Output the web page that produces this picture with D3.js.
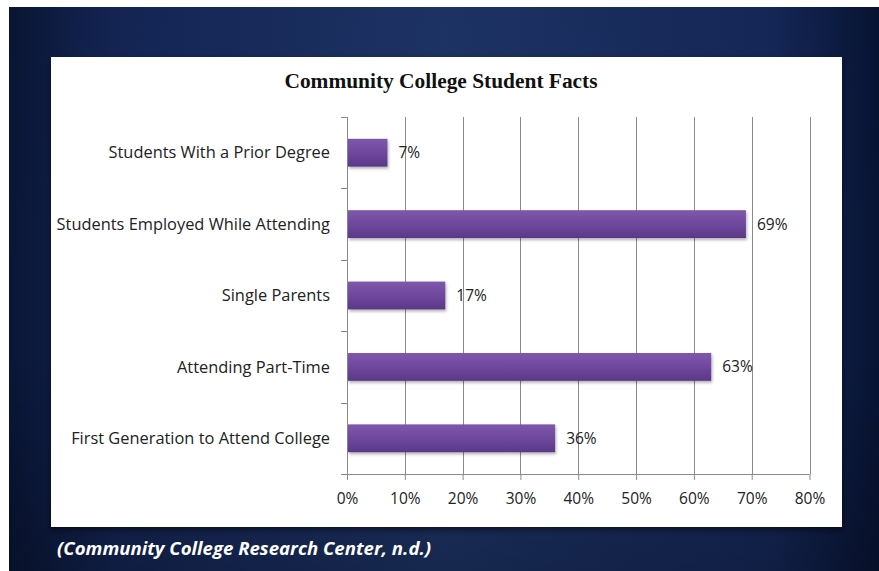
<!DOCTYPE html>
<html>
<head>
<meta charset="utf-8">
<script src="https://cdn.jsdelivr.net/npm/d3@7"></script>
<style>
  html, body { margin: 0; padding: 0; background: #fff; }
  svg { display: block; }
</style>
</head>
<body>
<svg id="chart" width="879" height="571"></svg>
<script>
// Chart content
const title = "Community College Student Facts";
const source = "(Community College Research Center, n.d.)";
const categories = [
  "Students With a Prior Degree",
  "Students Employed While Attending",
  "Single Parents",
  "Attending Part-Time",
  "First Generation to Attend College"
];
const values = [7, 69, 17, 63, 36];
const tickValues = [0, 10, 20, 30, 40, 50, 60, 70, 80];

const svg = d3.select("#chart");
const defs = svg.append("defs");

// Navy slide background, lighter in the middle, darker at the edges
const bgGrad = defs.append("linearGradient").attr("id", "bg").attr("x1", 0).attr("x2", 1).attr("y1", 0).attr("y2", 0);
bgGrad.append("stop").attr("offset", "0%").attr("stop-color", "#0a1636");
bgGrad.append("stop").attr("offset", "12%").attr("stop-color", "#142657");
bgGrad.append("stop").attr("offset", "50%").attr("stop-color", "#1e3568");
bgGrad.append("stop").attr("offset", "88%").attr("stop-color", "#15285a");
bgGrad.append("stop").attr("offset", "100%").attr("stop-color", "#081434");

const vGrad = defs.append("linearGradient").attr("id", "bgv").attr("x1", 0).attr("x2", 0).attr("y1", 0).attr("y2", 1);
vGrad.append("stop").attr("offset", "0%").attr("stop-color", "#000").attr("stop-opacity", 0.05);
vGrad.append("stop").attr("offset", "60%").attr("stop-color", "#000").attr("stop-opacity", 0.0);
vGrad.append("stop").attr("offset", "100%").attr("stop-color", "#000").attr("stop-opacity", 0.25);

const barGrad = defs.append("linearGradient").attr("id", "bar").attr("x1", 0).attr("x2", 0).attr("y1", 0).attr("y2", 1);
barGrad.append("stop").attr("offset", "0%").attr("stop-color", "#7e58ad");
barGrad.append("stop").attr("offset", "45%").attr("stop-color", "#71499f");
barGrad.append("stop").attr("offset", "100%").attr("stop-color", "#5a3888");

const shadow = defs.append("filter").attr("id", "shadow").attr("x", "-10%").attr("y", "-20%").attr("width", "130%").attr("height", "160%");
shadow.append("feDropShadow").attr("dx", 1).attr("dy", 2).attr("stdDeviation", 1.5).attr("flood-color", "#000").attr("flood-opacity", 0.3);

const panelShadow = defs.append("filter").attr("id", "pshadow").attr("x", "-5%").attr("y", "-5%").attr("width", "110%").attr("height", "115%");
panelShadow.append("feDropShadow").attr("dx", 0).attr("dy", 3).attr("stdDeviation", 3).attr("flood-color", "#000").attr("flood-opacity", 0.5);

svg.append("rect").attr("x", 9).attr("y", 7).attr("width", 870).attr("height", 564).attr("fill", "url(#bg)");
svg.append("rect").attr("x", 9).attr("y", 7).attr("width", 870).attr("height", 564).attr("fill", "url(#bgv)");

// White chart panel
svg.append("rect").attr("x", 51).attr("y", 57).attr("width", 791).attr("height", 470)
  .attr("fill", "#fff").attr("filter", "url(#pshadow)");

// Title
svg.append("text").attr("x", 441).attr("y", 88)
  .attr("text-anchor", "middle")
  .style("font-family", "'Liberation Serif', 'Times New Roman', serif")
  .style("font-weight", "bold").style("font-size", "21.4px").style("fill", "#111")
  .text(title);

// Plot area
const plot = { left: 347, right: 809.5, top: 117, bottom: 474 };
const x = d3.scaleLinear().domain([0, 80]).range([plot.left, plot.right]);
const y = d3.scaleBand().domain(categories).range([plot.top, plot.bottom]).paddingInner(0.61).paddingOuter(0.305);

const labelFont = "'Open Sans', 'Noto Sans', sans-serif";
const g = svg.append("g");

// Vertical gridlines
g.selectAll("line.grid").data(tickValues.filter(d => d > 0)).join("line")
  .attr("class", "grid")
  .attr("x1", d => Math.round(x(d)) + 0.5).attr("x2", d => Math.round(x(d)) + 0.5)
  .attr("y1", plot.top).attr("y2", plot.bottom)
  .attr("stroke", "#8a8a8a").attr("stroke-width", 1);

// Bottom axis
const xAxis = d3.axisBottom(x).tickValues(tickValues).tickFormat(d => d + "%").tickSize(6).tickPadding(13);
const xg = g.append("g").attr("transform", `translate(0,${plot.bottom})`).call(xAxis);
xg.select(".domain").attr("stroke", "#8a8a8a").attr("d", `M${plot.left},0.5H${plot.right}`);
xg.selectAll(".tick line").attr("stroke", "#8a8a8a");
xg.selectAll(".tick text")
  .style("font-family", labelFont)
  .style("font-size", "15.5px").style("fill", "#222");

// Left category axis with ticks between bands
const bandEdges = categories.map(c => y(c) - y.step() * y.paddingInner() / 2).concat([plot.bottom]);
g.append("line").attr("x1", plot.left + 0.5).attr("x2", plot.left + 0.5)
  .attr("y1", plot.top).attr("y2", plot.bottom + 6).attr("stroke", "#8a8a8a");
g.selectAll("line.ytick").data(bandEdges).join("line")
  .attr("class", "ytick")
  .attr("x1", plot.left - 6).attr("x2", plot.left)
  .attr("y1", d => Math.round(d) + 0.5).attr("y2", d => Math.round(d) + 0.5)
  .attr("stroke", "#8a8a8a");

g.selectAll("text.cat").data(categories).join("text")
  .attr("class", "cat")
  .attr("x", plot.left - 17)
  .attr("y", d => y(d) + y.bandwidth() / 2)
  .attr("dy", "0.35em")
  .attr("text-anchor", "end")
  .style("font-family", labelFont)
  .style("font-size", "16.4px").style("fill", "#222")
  .text(d => d);

// Bars
const data = categories.map((c, i) => ({ c, v: values[i] }));
g.selectAll("rect.bar").data(data).join("rect")
  .attr("class", "bar")
  .attr("x", x(0) + 1)
  .attr("y", d => y(d.c))
  .attr("width", d => x(d.v) - x(0) - 1)
  .attr("height", y.bandwidth())
  .attr("fill", "url(#bar)")
  .attr("filter", "url(#shadow)");

// Value labels
g.selectAll("text.val").data(data).join("text")
  .attr("class", "val")
  .attr("x", d => x(d.v) + 11)
  .attr("y", d => y(d.c) + y.bandwidth() / 2)
  .attr("dy", "0.35em")
  .style("font-family", labelFont)
  .style("font-size", "15.5px").style("fill", "#222")
  .text(d => d.v + "%");

// Source note
svg.append("text").attr("x", 57).attr("y", 555)
  .style("font-family", labelFont)
  .style("font-weight", "bold").style("font-style", "italic")
  .style("font-size", "18.6px").style("fill", "#fff")
  .text(source);
</script>
</body>
</html>
